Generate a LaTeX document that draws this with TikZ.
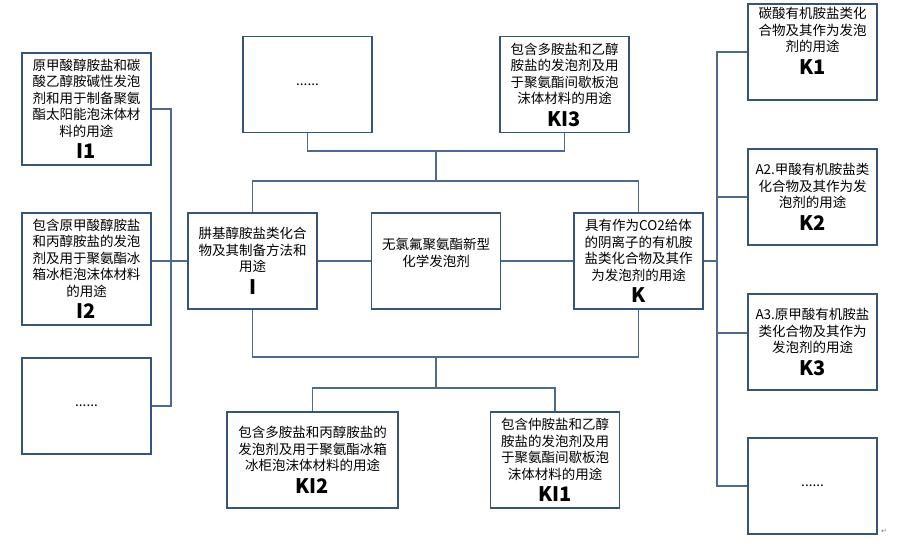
\documentclass[tikz,border=0pt]{standalone}
\usepackage{fontspec}
\setmainfont{Noto Sans CJK SC}
\newfontfamily\markfont{DejaVu Sans}
\definecolor{boxblue}{RGB}{52,84,122}
\definecolor{linkblue}{RGB}{78,106,142}
\newcommand{\boxlabel}[1]{{\fontsize{20}{22}\selectfont\bfseries #1}}
\begin{document}
\begin{tikzpicture}[x=1pt,y=-1pt,
    box/.style={draw=boxblue, line width=1.2pt, fill=white, minimum width=129pt,
      minimum height=96pt, inner sep=0pt, align=center,
      font=\fontsize{13.5}{16.5}\selectfont},
    tallbox/.style={box, minimum height=112pt},
    widebox/.style={box, minimum width=171pt}]
  \useasboundingbox[fill=white] (0,0) rectangle (898,546);
  \draw
    (86.5,109) node[tallbox] (I1){原甲酸醇胺盐和碳\\酸乙醇胺碱性发泡\\剂和用于制备聚氨\\酯太阳能泡沫体材\\料的用途\\[6pt]\boxlabel{I1}}
    (86.5,269) node[tallbox] (I2){包含原甲酸醇胺盐\\和丙醇胺盐的发泡\\剂及用于聚氨酯冰\\箱冰柜泡沫体材料\\的用途\\[6pt]\boxlabel{I2}}
    (86.5,406) node[box] (leftdots){......}
    (307.5,84.5) node[box] (topdots){......}
    (564.5,84.5) node[box] (KI3){包含多胺盐和乙醇\\胺盐的发泡剂及用\\于聚氨酯间歇板泡\\沫体材料的用途\\[6pt]\boxlabel{KI3}}
    (252.5,261) node[box] (I){肼基醇胺盐类化合\\物及其制备方法和\\用途\\[6pt]\boxlabel{I}}
    (436,261) node[box] (core){无氯氟聚氨酯新型\\化学发泡剂\\[1pt]}
    (638.5,261) node[box] (K){具有作为CO2给体\\的阴离子的有机胺\\盐类化合物及其作\\为发泡剂的用途\\[6pt]\boxlabel{K}}
    (812.5,52) node[box] (K1){碳酸有机胺盐类化\\合物及其作为发泡\\剂的用途\\[6pt]\boxlabel{K1}\\[6pt]}
    (812.5,197) node[box] (K2){A2.甲酸有机胺盐类\\化合物及其作为发\\泡剂的用途\\[6pt]\boxlabel{K2}}
    (812.5,342) node[box] (K3){A3.原甲酸有机胺盐\\类化合物及其作为\\发泡剂的用途\\[6pt]\boxlabel{K3}}
    (812.5,486) node[box] (rightdots){......}
    (312.5,460) node[widebox] (KI2){包含多胺盐和丙醇胺盐的\\发泡剂及用于聚氨酯冰箱\\冰柜泡沫体材料的用途\\[6pt]\boxlabel{KI2}}
    (555,460) node[box] (KI1){包含仲胺盐和乙醇\\胺盐的发泡剂及用\\于聚氨酯间歇板泡\\沫体材料的用途\\[6pt]\boxlabel{KI1}}
    (884,531) node[text=gray, font=\markfont\fontsize{7}{8}\selectfont] (mark){↵};
  \coordinate (topjoin) at (436,151);
  \coordinate (midjoin) at (436,181);
  \coordinate (lowjoin) at (436,357);
  \coordinate (basejoin) at (436,388);
  \coordinate (ltop) at (171,109);
  \coordinate (lbot) at (171,406);
  \coordinate (rtop) at (717,52);
  \coordinate (rbot) at (717,486);
  \coordinate (rmid) at (717,261);
  \coordinate (rthree) at (717,333);
  \begin{scope}[-, draw=linkblue, line width=1.2pt]
    \draw (topdots) |- (topjoin) -| (KI3);
    \draw (topjoin) to (midjoin);
    \draw (I) |- (midjoin) -| (K);
    \draw (I) |- (lowjoin) -| (K);
    \draw (lowjoin) to (basejoin);
    \draw (KI2) |- (basejoin) -| (KI1);
    \draw (I) to (core);
    \draw (core) to (K);
    \draw (K) to (rmid);
    \draw (I1) to (ltop) to (lbot) to (leftdots);
    \draw (I2.east |- I.west) to (I);
    \draw (K1) to (rtop) to (rbot) to (rightdots);
    \draw (K2) to (K2 -| rtop);
    \draw (rthree) to (rthree -| K3.west);
  \end{scope}
\end{tikzpicture}
\end{document}
